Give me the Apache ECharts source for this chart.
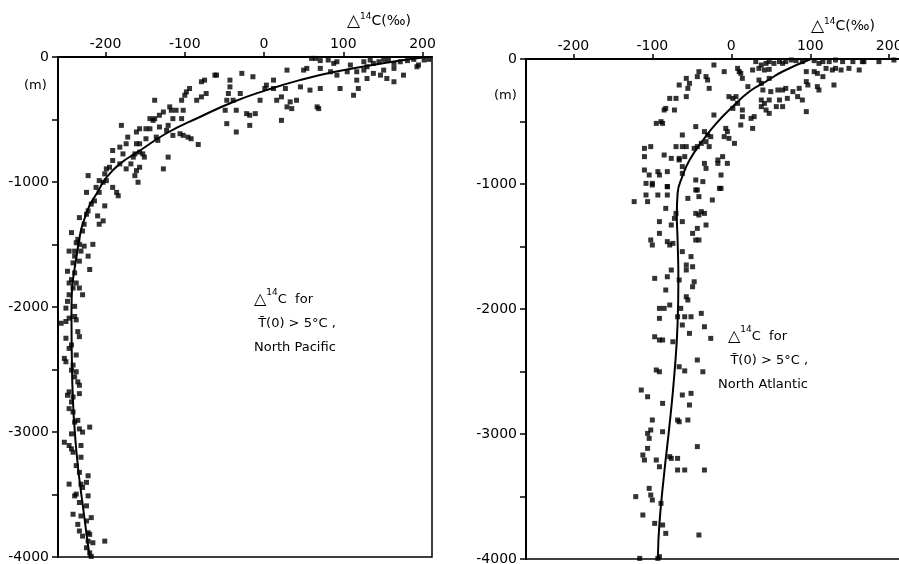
<!DOCTYPE html>
<html>
<head>
<meta charset="utf-8">
<script src="https://cdn.jsdelivr.net/npm/echarts@6/dist/echarts.min.js"></script>
<style>
  html, body { margin: 0; padding: 0; background: #fff; }
  #chart { width: 899px; height: 564px; }
</style>
</head>
<body>
<div id="chart"></div>
<script>
const xTicks = [-200, -100, 0, 100, 200];
const depthTicks = [0, -1000, -2000, -3000, -4000];

// [delta14C, depth m]
const pacificCurve = [
  [205, 0], [150, -50], [88, -120], [45, -185], [3, -265], [-39, -360], [-81, -480],
  [-123, -610], [-157, -750], [-182, -855], [-199, -965], [-210, -1080], [-223, -1230],
  [-235, -1530], [-243, -2060], [-242, -2600], [-237, -3140], [-227, -3670], [-220, -4000]
];

const pacificPoints = [
  [60, -11], [65, -11], [71, -29], [81, -24], [88, -51], [92, -38], [109, -64], [126, -38],
  [134, -24], [138, -51], [145, -38], [151, -19], [157, -24], [164, -51], [172, -38], [181, -29],
  [189, -19], [195, -64], [202, -24], [208, -19],
  [50, -105], [54, -91], [71, -91], [84, -118], [92, -145], [105, -118], [117, -118], [126, -105],
  [130, -78], [138, -131], [147, -145], [151, -105], [164, -91], [176, -145], [193, -78],
  [29, -105], [12, -185], [-14, -158], [-28, -131], [-43, -185], [-62, -145], [-75, -185], [-79, -198],
  [46, -239], [58, -265], [71, -252], [96, -252], [117, -185], [119, -252], [113, -306], [130, -172],
  [155, -172], [164, -198], [27, -252], [22, -319], [33, -359], [41, -346], [29, -399], [35, -413],
  [3, -225], [1, -252], [12, -252], [-5, -346], [16, -346], [22, -507], [67, -399], [69, -413],
  [-43, -239], [-45, -292], [-47, -346], [-39, -346], [-30, -292], [-49, -426], [-35, -426],
  [-22, -453], [-18, -466], [-11, -453], [-18, -547], [-47, -533], [-35, -600],
  [-94, -252], [-98, -279], [-100, -306], [-104, -346], [-85, -346], [-79, -319], [-73, -292], [-60, -145],
  [-138, -346], [-119, -399], [-127, -440], [-132, -466], [-117, -426], [-111, -426], [-102, -426],
  [-115, -493], [-104, -493], [-144, -493], [-140, -507], [-138, -493],
  [-180, -547], [-149, -574], [-157, -574], [-161, -600], [-144, -574], [-132, -560], [-121, -547],
  [-106, -614], [-102, -627], [-96, -641], [-92, -654], [-83, -700], [-115, -627],
  [-172, -641], [-174, -694], [-161, -694], [-157, -694], [-149, -654], [-136, -641], [-134, -667], [-123, -587],
  [-191, -748], [-182, -721], [-178, -775], [-165, -801], [-163, -775], [-153, -775], [-151, -801],
  [-157, -761], [-121, -801], [-191, -828], [-195, -882], [-199, -895], [-182, -855], [-174, -895],
  [-168, -855], [-161, -909], [-157, -882], [-127, -895], [-201, -935], [-208, -989], [-203, -1002],
  [-199, -989], [-163, -949], [-159, -1002], [-222, -949], [-224, -1083], [-212, -1043], [-208, -1083],
  [-191, -1043], [-186, -1083], [-184, -1110],
  [-214, -1151], [-218, -1177], [-201, -1191], [-222, -1231], [-224, -1258], [-233, -1285], [-210, -1271],
  [-203, -1311], [-208, -1338], [-227, -1338], [-229, -1392], [-243, -1405], [-235, -1459], [-237, -1486],
  [-233, -1499], [-216, -1499], [-227, -1513], [-246, -1553], [-239, -1553], [-231, -1553], [-222, -1593],
  [-239, -1593], [-241, -1647], [-233, -1633], [-220, -1700], [-248, -1714], [-239, -1727], [-243, -1781],
  [-246, -1808], [-237, -1808], [-241, -1848], [-233, -1848], [-229, -1902], [-246, -1902], [-248, -1955],
  [-250, -2009], [-239, -1995], [-256, -2130], [-250, -2116], [-246, -2089], [-239, -2076], [-237, -2103],
  [-235, -2197], [-233, -2237], [-250, -2250], [-243, -2304], [-246, -2331], [-237, -2384], [-252, -2411],
  [-250, -2438], [-241, -2465], [-243, -2505], [-237, -2518], [-239, -2559], [-235, -2599], [-233, -2626],
  [-246, -2679], [-248, -2706], [-241, -2720], [-233, -2693], [-243, -2760], [-246, -2813], [-241, -2840],
  [-235, -2907], [-239, -2921], [-233, -2975], [-220, -2961], [-229, -3001], [-243, -3015], [-252, -3082],
  [-246, -3108], [-243, -3135], [-231, -3108], [-241, -3162], [-231, -3202], [-237, -3269], [-233, -3323],
  [-222, -3350], [-224, -3403], [-246, -3417], [-231, -3417], [-229, -3444], [-237, -3497], [-239, -3511],
  [-222, -3511], [-233, -3564], [-224, -3591], [-241, -3658], [-231, -3672], [-218, -3685], [-224, -3712],
  [-235, -3739], [-233, -3792], [-222, -3806], [-220, -3819], [-229, -3833], [-222, -3873], [-201, -3873],
  [-216, -3886], [-224, -3926], [-220, -3967], [-218, -3995]
];

const atlanticCurve = [
  [101, 0], [65, -100], [44, -180], [23, -260], [2, -380], [-19, -515], [-36, -650], [-53, -810],
  [-62, -940], [-68, -1075], [-69, -1250], [-68, -1450], [-67, -1770], [-68, -2115], [-72, -2515],
  [-78, -2915], [-85, -3315], [-91, -3715], [-93, -3990]
];

const atlanticPoints = [
  [31, -21], [38, -48], [44, -35], [48, -21], [54, -35], [61, -21], [65, -35], [69, -21], [76, -8],
  [82, -13], [90, -21], [105, -13], [111, -35], [116, -21], [124, -21], [132, -8], [141, -21], [154, -21],
  [166, -21], [187, -21], [206, -8],
  [-22, -48], [-9, -101], [8, -75], [10, -101], [27, -88], [35, -75], [42, -88], [48, -83], [95, -101],
  [105, -101], [109, -115], [116, -141], [120, -75], [128, -88], [132, -75], [139, -88], [149, -75],
  [162, -88], [168, -21],
  [-41, -101], [-43, -141], [-32, -141], [-30, -168], [-57, -155], [-53, -195], [-66, -208], [-55, -235],
  [-57, -301], [-70, -315], [-78, -315], [-83, -395], [-85, -408], [-72, -408], [-95, -515], [-89, -501],
  [-87, -515], [-28, -235],
  [12, -115], [14, -155], [21, -221], [35, -168], [38, -195], [48, -155], [40, -248], [50, -261], [59, -248],
  [65, -248], [69, -235], [78, -261], [86, -235], [84, -301], [90, -328], [97, -208], [95, -181], [109, -221],
  [111, -248], [130, -208], [95, -421],
  [-3, -301], [2, -315], [6, -301], [8, -355], [2, -395], [14, -408], [38, -328], [42, -355], [48, -328],
  [38, -381], [44, -408], [48, -435], [57, -381], [65, -381], [61, -328], [71, -315], [14, -461], [25, -475],
  [29, -461], [12, -528], [27, -555],
  [-22, -448], [-45, -541], [-30, -608], [-34, -581], [-62, -608], [-26, -621], [-9, -621], [-7, -555],
  [-5, -581], [-3, -635], [4, -675],
  [-110, -715], [-102, -701], [-110, -781], [-85, -768], [-76, -795], [-66, -795], [-70, -701], [-62, -701],
  [-57, -701], [-47, -715], [-43, -701], [-38, -675], [-32, -661], [-28, -701],
  [-66, -808], [-59, -781], [-62, -861], [-34, -835], [-32, -875], [-17, -808], [-17, -835], [-11, -781],
  [-5, -835], [-110, -888], [-104, -928], [-93, -901], [-91, -928], [-81, -901], [-62, -915], [-13, -928],
  [-108, -995], [-100, -995], [-81, -1021], [-45, -968], [-45, -1048], [-36, -981], [-15, -1035],
  [-123, -1141], [-108, -1088], [-106, -1141], [-93, -1088], [-81, -1088], [-100, -1008], [-81, -1021],
  [-55, -1115], [-43, -1048], [-41, -1101], [-24, -1128], [-13, -1035],
  [-83, -1195], [-70, -1235], [-72, -1275], [-91, -1301], [-62, -1301], [-76, -1328], [-45, -1235],
  [-38, -1221], [-34, -1235], [-41, -1248], [-32, -1328], [-43, -1355], [-91, -1395], [-102, -1448],
  [-100, -1488], [-81, -1461], [-78, -1488], [-74, -1475], [-49, -1395], [-45, -1448], [-41, -1448],
  [-62, -1541], [-51, -1581], [-76, -1688], [-81, -1742], [-97, -1755], [-83, -1848], [-57, -1648],
  [-49, -1662], [-57, -1688], [-47, -1782], [-49, -1822], [-66, -1768], [-57, -1902], [-55, -1928],
  [-91, -1995], [-85, -1995], [-78, -1968], [-64, -1995], [-68, -2062], [-59, -2062], [-51, -2062],
  [-38, -2035], [-91, -2075], [-62, -2128], [-34, -2142], [-53, -2195], [-26, -2235], [-97, -2222],
  [-91, -2248], [-87, -2248], [-74, -2262], [-43, -2408], [-95, -2488], [-91, -2502], [-66, -2462],
  [-59, -2495], [-36, -2502],
  [-114, -2648], [-106, -2702], [-87, -2755], [-62, -2688], [-51, -2675], [-53, -2768], [-68, -2888],
  [-55, -2888], [-66, -2902], [-100, -2888], [-102, -2968], [-106, -2995], [-104, -3035], [-87, -2982],
  [-106, -3115], [-112, -3168], [-110, -3208], [-95, -3208], [-78, -3181], [-76, -3195], [-68, -3195],
  [-91, -3262], [-68, -3288], [-59, -3288], [-34, -3288], [-43, -3101], [-104, -3435], [-121, -3501],
  [-102, -3488], [-100, -3528], [-89, -3555], [-112, -3648], [-97, -3715], [-87, -3728], [-83, -3795],
  [-41, -3808], [-116, -3995], [-93, -3995], [-91, -3981]
];

const font = 'DejaVu Sans';

function xAxisFor(gridIndex, max) {
  return {
    type: 'value',
    gridIndex: gridIndex,
    position: 'top',
    min: -260,
    max: max,
    splitLine: { show: false },
    axisLine: { show: true, onZero: false, lineStyle: { color: '#000', width: 2 } },
    axisTick: { show: true, length: 5, customValues: xTicks, lineStyle: { color: '#000', width: 1.5 } },
    axisLabel: {
      customValues: xTicks, color: '#000', fontFamily: font, fontSize: 14, margin: 6,
      formatter: v => String(v)
    }
  };
}

function yAxisFor(gridIndex) {
  return {
    type: 'value',
    gridIndex: gridIndex,
    min: -4000,
    max: 0,
    interval: 500,
    splitLine: { show: false },
    axisLine: { show: true, onZero: false, lineStyle: { color: '#000', width: 2 } },
    axisTick: { show: true, length: 6, lineStyle: { color: '#000', width: 1.5 } },
    axisLabel: {
      color: '#000', fontFamily: font, fontSize: 14, margin: 9,
      formatter: v => (depthTicks.indexOf(v) >= 0 ? String(v) : '')
    }
  };
}

function titleText(x, y) {
  return {
    type: 'text', left: x, top: y,
    style: {
      text: '{d|△}{s|14}{n|C(‰)}',
      rich: {
        d: { fontFamily: font, fontSize: 17, fill: '#000' },
        s: { fontFamily: font, fontSize: 9, fill: '#000', verticalAlign: 'top', padding: [0, 0, 10, 0] },
        n: { fontFamily: font, fontSize: 14, fill: '#000' }
      }
    }
  };
}

function noteText(x, y, lines) {
  return {
    type: 'text', left: x, top: y,
    style: {
      text: lines.join('\n'),
      lineHeight: 24,
      rich: {
        d: { fontFamily: font, fontSize: 16, fill: '#000' },
        s: { fontFamily: font, fontSize: 9, fill: '#000', verticalAlign: 'top', padding: [0, 0, 10, 0] },
        n: { fontFamily: font, fontSize: 13, fill: '#000' }
      }
    }
  };
}

const chart = echarts.init(document.getElementById('chart'), null, { renderer: 'canvas' });

const option = {
  backgroundColor: '#fff',
  animation: false,
  grid: [
    { left: 58, top: 57, width: 374, height: 500, outerBoundsMode: 'none', show: true, borderColor: '#000', borderWidth: 1.5 },
    { left: 526, top: 59, width: 379, height: 500, outerBoundsMode: 'none', show: true, borderColor: '#000', borderWidth: 1.5 }
  ],
  xAxis: [xAxisFor(0, 212), xAxisFor(1, 220)],
  yAxis: [yAxisFor(0), yAxisFor(1)],
  series: [
    {
      type: 'scatter', xAxisIndex: 0, yAxisIndex: 0, data: pacificPoints,
      symbol: 'rect', symbolSize: 5, itemStyle: { color: '#000' }
    },
    {
      type: 'line', xAxisIndex: 0, yAxisIndex: 0, data: pacificCurve,
      smooth: true, showSymbol: false, lineStyle: { color: '#000', width: 2 }
    },
    {
      type: 'scatter', xAxisIndex: 1, yAxisIndex: 1, data: atlanticPoints,
      symbol: 'rect', symbolSize: 5, itemStyle: { color: '#000' }
    },
    {
      type: 'line', xAxisIndex: 1, yAxisIndex: 1, data: atlanticCurve,
      smooth: true, showSymbol: false, lineStyle: { color: '#000', width: 2 }
    }
  ],
  graphic: [
    { type: 'text', left: 24, top: 79, style: { text: '(m)', fontFamily: font, fontSize: 13, fill: '#000' } },
    { type: 'text', left: 494, top: 89, style: { text: '(m)', fontFamily: font, fontSize: 13, fill: '#000' } },
    titleText(347, 12),
    titleText(811, 17),
    noteText(254, 288, ['{d|△}{s|14}{n|C  for}', '{n| T̄(0) > 5°C ,}', '{n|North Pacific}']),
    noteText(718, 325, ['   {d|△}{s|14}{n|C  for}', '{n|   T̄(0) > 5°C ,}', '{n|North Atlantic}'])
  ]
};

chart.setOption(option);
</script>
</body>
</html>
